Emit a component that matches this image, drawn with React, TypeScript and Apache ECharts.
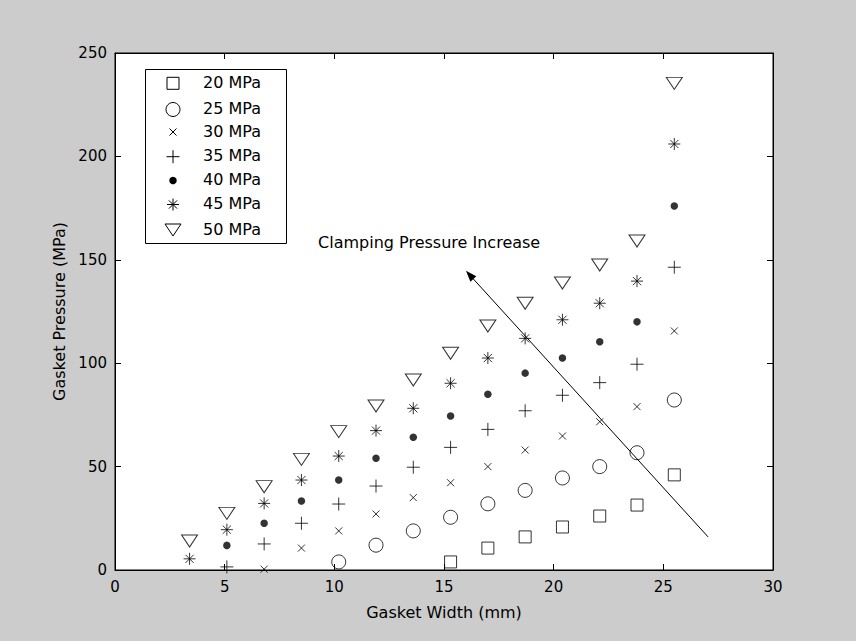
import { useEffect, useRef } from 'react';
import * as echarts from 'echarts';

const FONT = '"DejaVu Sans", "Liberation Sans", sans-serif';

// Gasket width (mm) columns
const widths = [3.4, 5.1, 6.8, 8.5, 10.2, 11.9, 13.6, 15.3, 17.0, 18.7, 20.4, 22.1, 23.8, 25.5];

// Gasket pressure (MPa) for each clamping pressure
const p20 = [null, null, null, null, null, null, null, 3.9, 10.6, 16.0, 20.8, 26.1, 31.4, 46.0];
const p25 = [null, null, null, null, 3.9, 12.0, 18.9, 25.5, 32.0, 38.5, 44.5, 50.0, 56.7, 82.2];
const p30 = [null, null, 0.4, 10.6, 18.9, 27.1, 35.0, 42.2, 50.0, 58.0, 64.8, 71.7, 79.0, 115.6];
const p35 = [null, 1.5, 12.6, 22.6, 31.9, 40.6, 49.7, 59.3, 68.0, 77.0, 84.5, 90.6, 99.5, 146.4];
const p40 = [null, 11.9, 22.6, 33.4, 43.5, 54.0, 64.2, 74.5, 85.0, 95.2, 102.5, 110.4, 120.0, 176.0];
const p45 = [5.4, 19.5, 32.2, 43.5, 55.1, 67.4, 78.2, 90.3, 102.5, 112.0, 121.0, 129.0, 139.7, 206.0];
const p50 = [14.0, 27.4, 40.3, 53.5, 66.9, 79.3, 91.9, 104.8, 118.0, 129.0, 138.8, 147.5, 159.1, 235.3];

const seriesNames = ['20 MPa', '25 MPa', '30 MPa', '35 MPa', '40 MPa', '45 MPa', '50 MPa'];

const xTicks = { min: 0, max: 30, interval: 5 };
const yTicks = { min: 0, max: 250, interval: 50 };

// annotation (data coordinates)
const annotationText = 'Clamping Pressure Increase';
const annotationAt = [9.26, 158.6];
const arrowFrom = [27.04, 16.0];
const arrowTo = [16.17, 142.7];
const arrowHeadRotate = 42.3;

const GRID = { left: 115, top: 53, width: 658, height: 517 };

const toPairs = (vals: (number | null)[]) =>
  widths.map((w, i) => [w, vals[i]]).filter((d) => d[1] !== null);

const hollow = { color: 'rgba(0,0,0,0)', borderColor: '#000', borderWidth: 1 };

const markers = [
  { kind: 'square', symbol: 'rect', size: [12, 12], style: hollow, vals: p20 },
  { kind: 'circle', symbol: 'circle', size: [14, 14], style: hollow, vals: p25 },
  { kind: 'x', symbol: 'path://M0,0 L10,10 M10,0 L0,10', size: [7, 7], style: hollow, vals: p30 },
  { kind: 'plus', symbol: 'path://M5,0 L5,10 M0,5 L10,5', size: [13, 13], style: hollow, vals: p35 },
  { kind: 'dot', symbol: 'circle', size: [7.5, 7.5], style: { color: '#000', borderWidth: 0 }, vals: p40 },
  {
    kind: 'star',
    symbol: 'path://M5,0 L5,10 M0,5 L10,5 M1.6,1.6 L8.4,8.4 M8.4,1.6 L1.6,8.4',
    size: [12, 12],
    style: hollow,
    vals: p45,
  },
  { kind: 'tri', symbol: 'path://M0,0 L16,0 L8,12 Z', size: [16, 12], style: hollow, vals: p50 },
];

const legendRows = [83.3, 109.5, 132, 156.7, 180.5, 204.5, 230];
const LEGEND_BOX = { left: 145.5, top: 69.5, width: 141, height: 174 };
const LEGEND_SYMBOL_X = 173;
const LEGEND_TEXT_X = 203;

const tickText = { color: '#000', fontSize: 15, fontFamily: FONT };
const labelText = { color: '#000', fontSize: 16, fontFamily: FONT };

function legendGlyph(kind: string, cx: number, cy: number) {
  const stroke = { stroke: '#000', lineWidth: 1, fill: 'none' };
  const line = (x1: number, y1: number, x2: number, y2: number) => ({
    type: 'line',
    shape: { x1: cx + x1, y1: cy + y1, x2: cx + x2, y2: cy + y2 },
    style: stroke,
  });
  switch (kind) {
    case 'square':
      return [{ type: 'rect', shape: { x: cx - 6, y: cy - 6, width: 12, height: 12 }, style: stroke }];
    case 'circle':
      return [{ type: 'circle', shape: { cx, cy, r: 7 }, style: stroke }];
    case 'x':
      return [line(-3.5, -3.5, 3.5, 3.5), line(3.5, -3.5, -3.5, 3.5)];
    case 'plus':
      return [line(0, -6.5, 0, 6.5), line(-6.5, 0, 6.5, 0)];
    case 'dot':
      return [{ type: 'circle', shape: { cx, cy, r: 3.75 }, style: { fill: '#000' } }];
    case 'star':
      return [
        line(0, -6, 0, 6),
        line(-6, 0, 6, 0),
        line(-4.1, -4.1, 4.1, 4.1),
        line(4.1, -4.1, -4.1, 4.1),
      ];
    default:
      return [
        {
          type: 'polygon',
          shape: { points: [[cx - 8, cy - 6], [cx + 8, cy - 6], [cx, cy + 6]] },
          style: stroke,
        },
      ];
  }
}

function buildOption() {
  const axisCommon = {
    type: 'value' as const,
    axisLine: { show: true, onZero: false, lineStyle: { color: '#000', width: 1 } },
    axisTick: { show: true, inside: true, length: 6, lineStyle: { color: '#000', width: 1 } },
    splitLine: { show: false },
  };

  const series: any[] = markers.map((m, i) => ({
    type: 'scatter',
    name: seriesNames[i],
    xAxisIndex: 0,
    yAxisIndex: 0,
    symbol: m.symbol,
    symbolSize: m.size,
    itemStyle: m.style,
    emphasis: { disabled: true },
    data: toPairs(m.vals),
    z: 3,
  }));

  series[6].markLine = {
    silent: true,
    symbol: ['none', 'none'],
    label: { show: false },
    lineStyle: { color: '#000', width: 1, type: 'solid' },
    emphasis: { disabled: true },
    data: [[{ coord: arrowFrom }, { coord: arrowTo }]],
  };
  series[6].markPoint = {
    silent: true,
    emphasis: { disabled: true },
    data: [
      {
        coord: annotationAt,
        symbol: 'circle',
        symbolSize: 0,
        itemStyle: { color: 'rgba(0,0,0,0)' },
        label: {
          show: true,
          position: 'right',
          distance: 0,
          formatter: annotationText,
          ...labelText,
        },
      },
      {
        coord: arrowTo,
        symbol: 'triangle',
        symbolSize: [8, 11],
        symbolRotate: arrowHeadRotate,
        itemStyle: { color: '#000', borderWidth: 0 },
        label: { show: false },
      },
    ],
  };

  const legendGraphics: any[] = [
    {
      type: 'rect',
      z: 5,
      silent: true,
      shape: { x: LEGEND_BOX.left, y: LEGEND_BOX.top, width: LEGEND_BOX.width, height: LEGEND_BOX.height },
      style: { fill: '#fff', stroke: '#000', lineWidth: 1 },
    },
  ];
  markers.forEach((m, i) => {
    legendGlyph(m.kind, LEGEND_SYMBOL_X, legendRows[i]).forEach((g: any) =>
      legendGraphics.push({ ...g, z: 6, silent: true })
    );
    legendGraphics.push({
      type: 'text',
      z: 6,
      silent: true,
      x: LEGEND_TEXT_X,
      y: legendRows[i] - 1,
      style: {
        text: seriesNames[i],
        fill: '#000',
        fontSize: 16,
        fontFamily: FONT,
        verticalAlign: 'middle',
        align: 'left',
      },
    });
  });

  return {
    animation: false,
    backgroundColor: '#cccccc',
    textStyle: { fontFamily: FONT },
    grid: {
      ...GRID,
      show: true,
      backgroundColor: '#ffffff',
      borderColor: '#000',
      borderWidth: 1,
      containLabel: false,
    },
    xAxis: [
      {
        ...axisCommon,
        ...xTicks,
        position: 'bottom',
        axisLabel: { ...tickText, margin: 9 },
        name: 'Gasket Width (mm)',
        nameLocation: 'middle',
        nameGap: 34,
        nameTextStyle: labelText,
      },
      {
        ...axisCommon,
        ...xTicks,
        position: 'top',
        axisLabel: { show: false },
      },
    ],
    yAxis: [
      {
        ...axisCommon,
        ...yTicks,
        position: 'left',
        axisLabel: { ...tickText, margin: 8 },
        name: 'Gasket Pressure (MPa)',
        nameLocation: 'middle',
        nameGap: 46,
        nameTextStyle: labelText,
      },
      {
        ...axisCommon,
        ...yTicks,
        position: 'right',
        axisLabel: { show: false },
      },
    ],
    graphic: legendGraphics,
    series,
  };
}

export default function App() {
  const ref = useRef<HTMLDivElement>(null);
  useEffect(() => {
    const chart = echarts.init(ref.current!, null, { renderer: 'svg' });
    chart.setOption(buildOption() as any);
    return () => chart.dispose();
  }, []);
  return (
    <div
      ref={ref}
      style={{ position: 'fixed', left: 0, top: 0, width: 856, height: 641 }}
    />
  );
}
